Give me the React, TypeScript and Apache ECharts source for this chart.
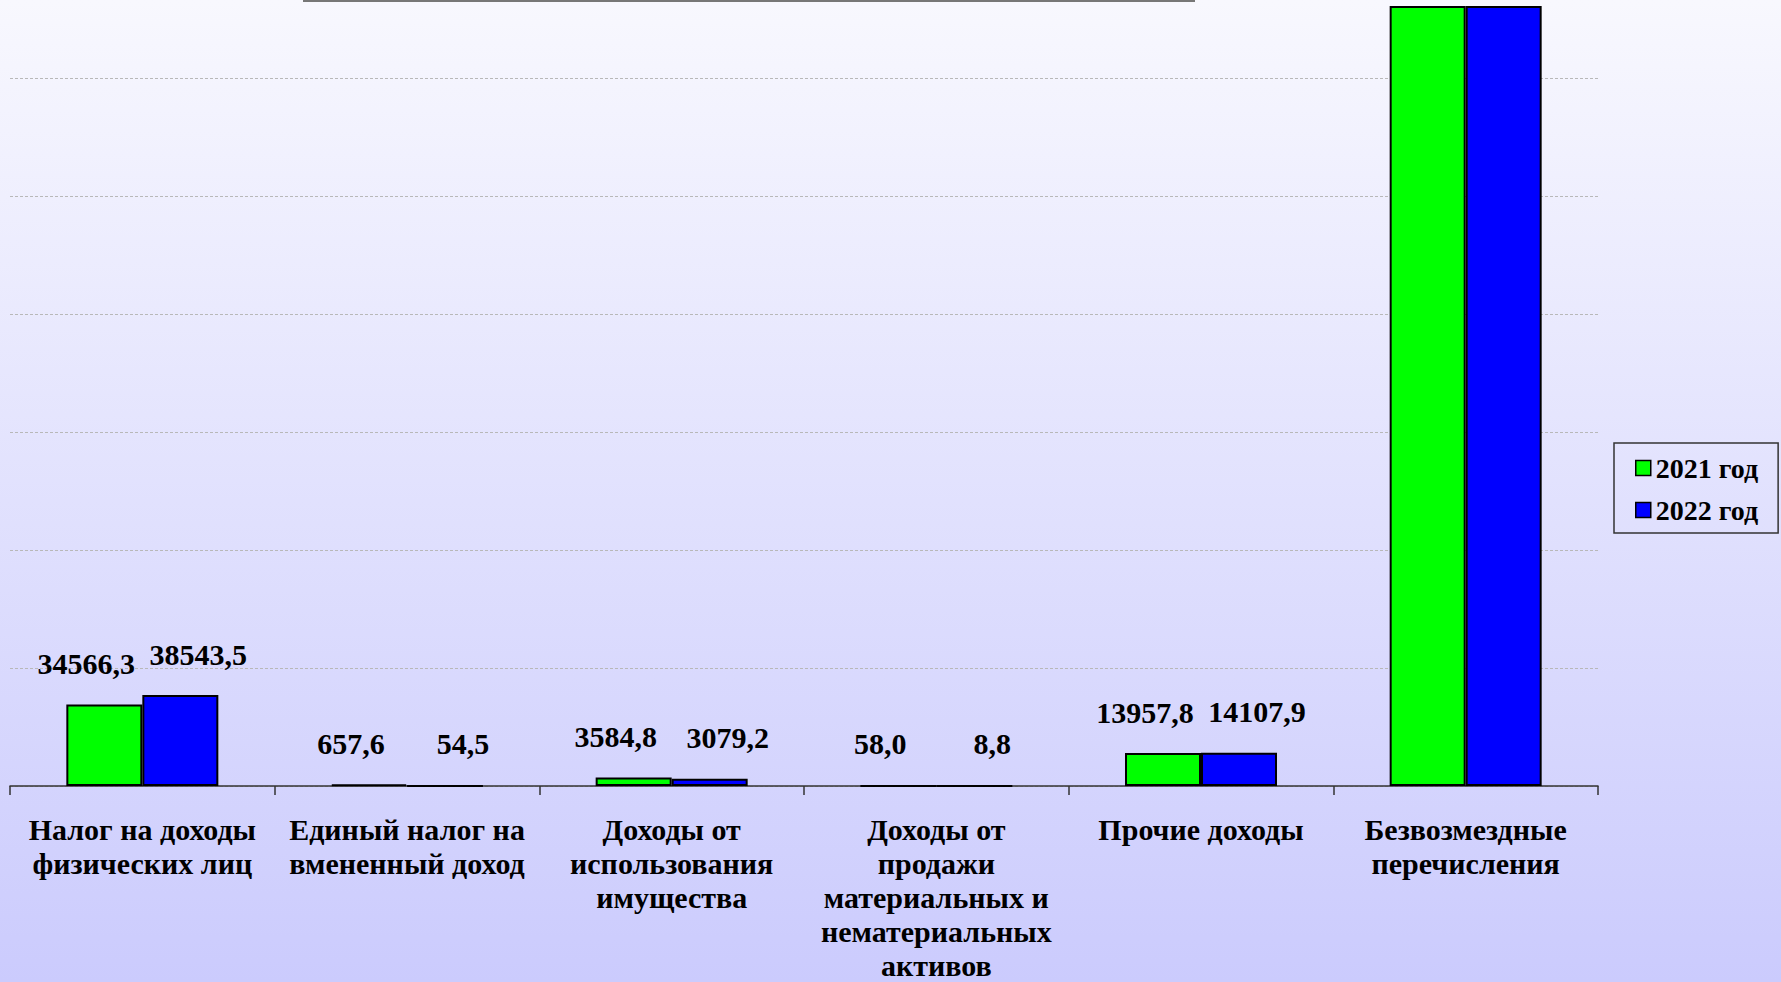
import React, { useEffect, useRef } from "react";
import * as echarts from "echarts";

const categories = [
  "Налог на доходы\nфизических лиц",
  "Единый налог на\nвмененный доход",
  "Доходы от\nиспользования\nимущества",
  "Доходы от\nпродажи\nматериальных и\nнематериальных\nактивов",
  "Прочие доходы",
  "Безвозмездные\nперечисления",
];
const seriesNames = ["2021 год", "2022 год"];
// last category exceeds the visible range (clipped in the picture); values estimated
const values2021 = [34566.3, 657.6, 3584.8, 58.0, 13957.8, 420000];
const values2022 = [38543.5, 54.5, 3079.2, 8.8, 14107.9, 430000];
const yMax = 330000;
const yInterval = 50000;

const FONT = "Liberation Serif";

export default function App() {
  const ref = useRef<HTMLDivElement>(null);
  useEffect(() => {
    if (!ref.current) return;
    document.body.style.margin = "0";
    document.body.style.overflow = "hidden";
    const chart = echarts.init(ref.current, null, { renderer: "svg" });
    const fmt = (p: any) => {
      const v = Number(p.value);
      if (v > yMax) return "";
      return v.toFixed(1).replace(".", ",");
    };
    const mkSeries = (name: string, data: number[], color: string, dx: number) => ({
      name,
      type: "bar",
      data,
      barWidth: 76,
      barGap: "0%",
      clip: true,
      itemStyle: { color, borderColor: "#000", borderWidth: 2 },
      label: {
        show: true,
        position: "top",
        distance: 26,
        offset: [dx, 0],
        formatter: fmt,
        fontFamily: FONT,
        fontWeight: "bold",
        fontSize: 30,
        color: "#000",
      },
    });
    chart.setOption({
      animation: false,
      backgroundColor: new echarts.graphic.LinearGradient(0, 0, 0, 1, [
        { offset: 0, color: "#f8f8fe" },
        { offset: 1, color: "#cbcbfd" },
      ]),
      grid: { left: 10, right: 183, top: 7, bottom: 192 },
      legend: {
        orient: "vertical",
        left: 1614,
        top: 443,
        padding: [11, 20, 9, 21],
        itemGap: 14,
        itemWidth: 15,
        itemHeight: 15,
        borderColor: "#333",
        borderWidth: 1.5,
        borderRadius: 0,
        icon: "rect",
        itemStyle: { borderColor: "#000", borderWidth: 1.5 },
        textStyle: {
          fontFamily: FONT,
          fontWeight: "bold",
          fontSize: 28,
          lineHeight: 27,
          color: "#000",
        },
        data: seriesNames,
      },
      xAxis: {
        type: "category",
        data: categories,
        axisLine: { show: true, lineStyle: { color: "#333", width: 1.5 } },
        axisTick: { show: true, length: 9, lineStyle: { color: "#333", width: 1.5 } },
        axisLabel: {
          interval: 0,
          margin: 26,
          fontFamily: FONT,
          fontWeight: "bold",
          fontSize: 30,
          lineHeight: 34,
          color: "#000",
        },
      },
      yAxis: {
        type: "value",
        min: 0,
        max: yMax,
        interval: yInterval,
        axisLine: { show: false },
        axisTick: { show: false },
        axisLabel: { show: false },
        splitLine: {
          show: true,
          showMaxLine: false,
          lineStyle: { color: "#b8b8b8", type: [3, 2], width: 1 },
        },
      },
      graphic: [
        {
          type: "line",
          shape: { x1: 303, y1: 1, x2: 1195, y2: 1 },
          style: { stroke: "#777", lineWidth: 2 },
        },
      ],
      series: [
        mkSeries(seriesNames[0], values2021, "#00ff00", -18),
        mkSeries(seriesNames[1], values2022, "#0000ff", 18),
      ],
    });
    return () => chart.dispose();
  }, []);
  return <div ref={ref} style={{ width: 1781, height: 982 }} />;
}
